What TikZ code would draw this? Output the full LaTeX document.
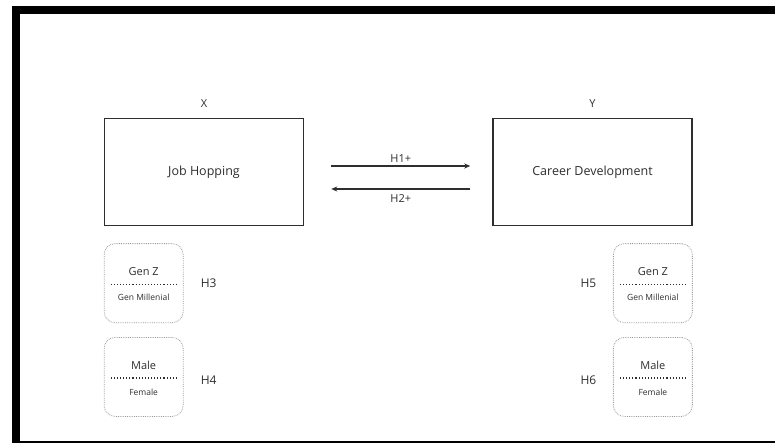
\documentclass[tikz,border=0pt]{standalone}
\usepackage{fontspec}
\setmainfont{Open Sans}
\usepackage{xcolor}
\usepackage{tikz}
\usetikzlibrary{arrows.meta,positioning}

\definecolor{ink}{HTML}{2E2E2E}
\definecolor{dotgray}{HTML}{9A9A9A}

\begin{document}
\begin{tikzpicture}[
  x=1pt, y=-1pt,
  varbox/.style={draw=ink, line width=1.5pt, minimum width=199pt, minimum height=107pt, text=ink, font=\fontsize{12.5}{15}\selectfont},
  groupbox/.style={draw=dotgray, densely dotted, line width=0.8pt, rounded corners=11pt, minimum width=79pt, minimum height=79pt},
  tag/.style={text=ink, inner sep=1pt, font=\fontsize{11}{13}\selectfont},
  hyp/.style={text=ink, inner sep=1pt, font=\fontsize{12}{14}\selectfont},
  upper/.style={text=ink, inner sep=1pt, font=\fontsize{11}{13}\selectfont},
  lower/.style={text=ink, inner sep=1pt, font=\fontsize{8.5}{10}\selectfont},
  sep/.style={draw=ink, line width=1.1pt, dotted},
  arrow/.style={-{Stealth[length=6pt,width=5pt]}, line width=1.2pt, draw=ink}
]
\useasboundingbox (0,0) rectangle (775,443);
\fill[black] (12,6) rectangle (775,14);
\fill[black] (12,6) rectangle (20,443);
\draw[black, line width=1.5pt] (20,442.2) -- (775,442.2);

\node[varbox] (jh) at (204,172) {Job Hopping};
\node[varbox, right=188pt of jh] (cd) {Career Development};
\node[tag, above=9pt of jh] (xlab) {X};
\node[tag, above=9pt of cd] (ylab) {Y};

\draw[arrow] ([xshift=27pt, yshift=6pt]jh.east) -- node[tag, above=2pt] {H1+} ([xshift=-22pt, yshift=6pt]cd.west);
\draw[arrow] ([xshift=-22pt, yshift=-17pt]cd.west) -- node[tag, below=4pt] {H2+} ([xshift=27pt, yshift=-17pt]jh.east);

\node[groupbox, below=17pt of jh.south west, anchor=north west] (genl) {};
\node[groupbox, below=14pt of genl] (sexl) {};
\node[groupbox, below=17pt of cd.south east, anchor=north east] (genr) {};
\node[groupbox, below=14pt of genr] (sexr) {};

\foreach \g in {genl, sexl, genr, sexr} {
  \coordinate (\g mid) at ([yshift=-1pt]\g.center);
  \draw[sep] ([xshift=7pt]\g.west |- \g mid) -- ([xshift=-7pt]\g.east |- \g mid);
}

\node[upper, above=7pt of genlmid] (genlz) {Gen Z};
\node[lower, below=9pt of genlmid] (genlm) {Gen Millenial};
\node[upper, above=7pt of sexlmid] (sexlm) {Male};
\node[lower, below=10pt of sexlmid] (sexlf) {Female};
\node[upper, above=7pt of genrmid] (genrz) {Gen Z};
\node[lower, below=9pt of genrmid] (genrm) {Gen Millenial};
\node[upper, above=7pt of sexrmid] (sexrm) {Male};
\node[lower, below=10pt of sexrmid] (sexrf) {Female};

\node[hyp, right=16pt of genl] (h3) {H3};
\node[hyp, right=16pt of sexl, yshift=-3pt] (h4) {H4};
\node[hyp, left=15.5pt of genr] (h5) {H5};
\node[hyp, left=15.5pt of sexr, yshift=-3pt] (h6) {H6};
\end{tikzpicture}
\end{document}
